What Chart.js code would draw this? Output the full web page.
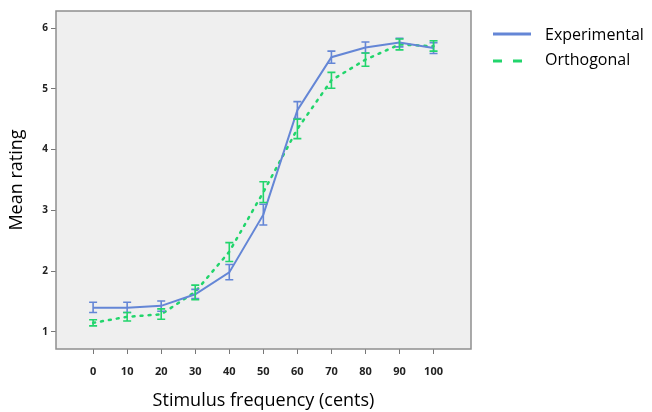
<!DOCTYPE html>
<html><head><meta charset="utf-8">
<script src="https://cdn.jsdelivr.net/npm/chart.js@4/dist/chart.umd.min.js"></script>
<style>html,body{margin:0;padding:0;background:#fff;}#wrap{position:relative;width:652px;height:412px;}</style>
</head><body>
<div id="wrap"><canvas id="c" width="652" height="412"></canvas></div>
<script>
const categories = [0,10,20,30,40,50,60,70,80,90,100];
const yTicks = [1,2,3,4,5,6];
const experimental = [1.40,1.40,1.43,1.62,1.98,2.93,4.65,5.52,5.68,5.76,5.67];
const experimentalLow = [1.32,1.32,1.34,1.55,1.86,2.76,4.51,5.42,5.59,5.69,5.58];
const experimentalHigh = [1.49,1.49,1.51,1.70,2.11,3.10,4.79,5.62,5.77,5.83,5.76];
const orthogonal = [1.15,1.25,1.29,1.66,2.32,3.30,4.34,5.14,5.48,5.73,5.70];
const orthogonalLow = [1.10,1.18,1.21,1.53,2.16,3.13,4.18,5.01,5.37,5.64,5.62];
const orthogonalHigh = [1.20,1.32,1.38,1.77,2.47,3.47,4.50,5.27,5.59,5.82,5.79];
const seriesNames = ['Experimental','Orthogonal'];

const BLUE = '#6486d6';
const GREEN = '#22d56c';

const bgPlugin = {
  id:'bg',
  beforeDraw(chart){
    const {ctx, chartArea:a} = chart;
    ctx.save();
    ctx.fillStyle = '#efefef';
    ctx.fillRect(a.left, a.top, a.right-a.left, a.bottom-a.top);
    ctx.restore();
  },
  afterDraw(chart){
    const {ctx, chartArea:a} = chart;
    ctx.save();
    ctx.strokeStyle = '#8f8f8f';
    ctx.lineWidth = 1.5;
    ctx.strokeRect(a.left, a.top, a.right-a.left, a.bottom-a.top);
    // legend
    ctx.lineWidth = 3;
    ctx.strokeStyle = BLUE;
    ctx.beginPath(); ctx.moveTo(493,34); ctx.lineTo(531,34); ctx.stroke();
    ctx.strokeStyle = GREEN;
    ctx.setLineDash([9,11]);
    ctx.beginPath(); ctx.moveTo(493,61); ctx.lineTo(531,61); ctx.stroke();
    ctx.setLineDash([]);
    ctx.fillStyle = '#000';
    ctx.font = '16px "Open Sans", sans-serif';
    ctx.textBaseline = 'middle';
    ctx.fillText(seriesNames[0], 545, 35);
    ctx.fillText(seriesNames[1], 545, 60);
    ctx.restore();
  }
};

const errPlugin = {
  id:'err',
  afterDatasetsDraw(chart){
    const {ctx, scales:{x,y}} = chart;
    const sets = [[experimentalLow,experimentalHigh,BLUE],[orthogonalLow,orthogonalHigh,GREEN]];
    ctx.save();
    sets.forEach(([lo,hi,col])=>{
      ctx.strokeStyle = col;
      ctx.lineWidth = 1.6;
      categories.forEach((c,i)=>{
        const px = x.getPixelForValue(c);
        const y1 = y.getPixelForValue(lo[i]);
        const y2 = y.getPixelForValue(hi[i]);
        ctx.beginPath();
        ctx.moveTo(px,y1); ctx.lineTo(px,y2);
        ctx.moveTo(px-4,y1); ctx.lineTo(px+4,y1);
        ctx.moveTo(px-4,y2); ctx.lineTo(px+4,y2);
        ctx.stroke();
      });
    });
    ctx.restore();
  }
};

new Chart(document.getElementById('c'), {
  type:'line',
  data:{
    datasets:[
      {label:seriesNames[0], data:categories.map((c,i)=>({x:c,y:experimental[i]})),
       borderColor:BLUE, borderWidth:2, pointRadius:0, tension:0, fill:false},
      {label:seriesNames[1], data:categories.map((c,i)=>({x:c,y:orthogonal[i]})),
       borderColor:GREEN, borderWidth:2.5, borderDash:[2,6], borderCapStyle:'round', pointRadius:0, tension:0, fill:false}
    ]
  },
  options:{
    responsive:false, animation:false,
    layout:{padding:{left:0,top:11,right:181,bottom:0}},
    plugins:{legend:{display:false}, tooltip:{enabled:false}},
    scales:{
      x:{type:'linear', min:-10.9, max:111,
         afterBuildTicks(ax){ ax.ticks = categories.map(v=>({value:v})); },
         afterFit(ax){ ax.height = 63; },
         grid:{drawOnChartArea:false, drawTicks:true, tickLength:5, color:'#777', tickWidth:1},
         border:{display:false},
         ticks:{padding:11, color:'#222', font:{family:'"Open Sans", sans-serif', size:11, weight:'bold'}, maxRotation:0},
         title:{display:true, text:'Stimulus frequency (cents)', color:'#000', padding:{top:0,bottom:0},
                font:{family:'"Open Sans", sans-serif', size:18}}
      },
      y:{type:'linear', min:0.72, max:6.28,
         afterBuildTicks(ax){ ax.ticks = yTicks.map(v=>({value:v})); },
         afterFit(ax){ ax.width = 56; },
         grid:{drawOnChartArea:false, drawTicks:true, tickLength:5, color:'#777', tickWidth:1},
         border:{display:false},
         ticks:{padding:3, color:'#222', font:{family:'"Open Sans", sans-serif', size:10, weight:'bold'}},
         title:{display:true, text:'Mean rating', color:'#000', padding:{top:6,bottom:0},
                font:{family:'"Open Sans", sans-serif', size:18}}
      }
    }
  },
  plugins:[bgPlugin, errPlugin]
});
</script>
</body></html>
